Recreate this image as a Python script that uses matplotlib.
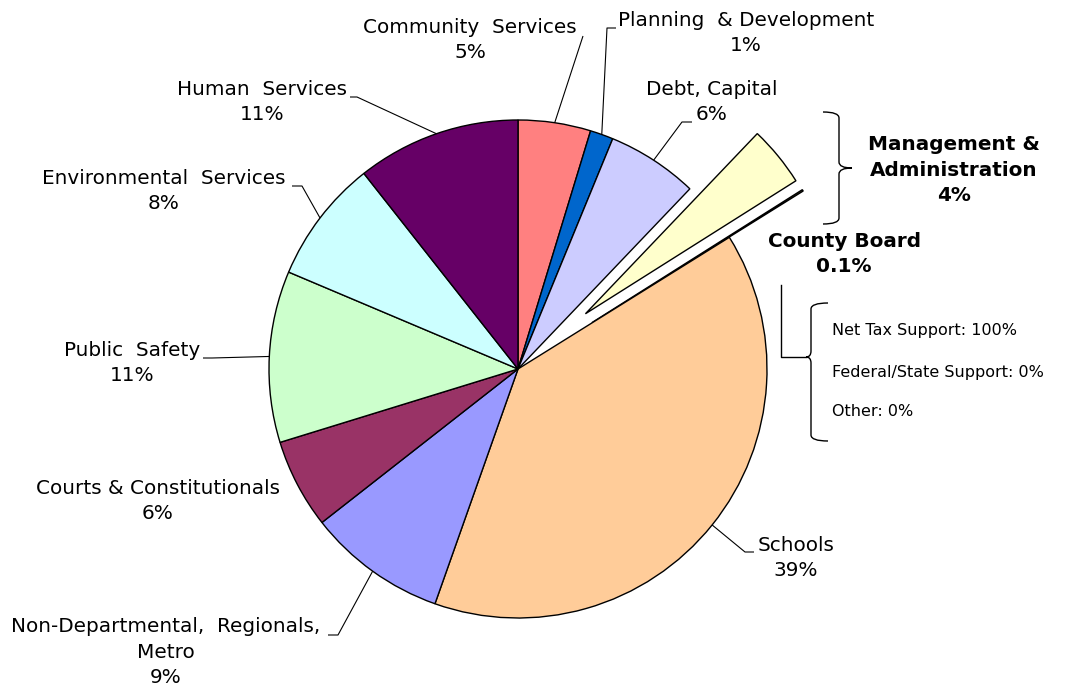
import numpy as np
import matplotlib
matplotlib.use('Agg')
import matplotlib.pyplot as plt
from matplotlib.path import Path
from matplotlib.patches import PathPatch

# data (clockwise from 12 o'clock)
categories = ['Community Services', 'Planning & Development', 'Debt, Capital',
              'Management & Administration', 'County Board', 'Schools',
              'Non-Departmental, Regionals, Metro', 'Courts & Constitutionals',
              'Public Safety', 'Environmental Services', 'Human Services']
shares = [4.7, 1.5, 5.9, 3.9, 0.1, 39.2, 9.0, 5.8, 11.1, 8.0, 10.6]
pct_labels = ['5%', '1%', '6%', '4%', '0.1%', '39%', '9%', '6%', '11%', '8%', '11%']
display_names = ['Community  Services', 'Planning  & Development', 'Debt, Capital',
                 'Management &\nAdministration', 'County Board', 'Schools',
                 'Non-Departmental,  Regionals,\nMetro', 'Courts & Constitutionals',
                 'Public  Safety', 'Environmental  Services', 'Human  Services']
colors = ['#FF8080', '#0066CC', '#CCCCFF', '#FFFFCC', '#666633', '#FFCC99',
          '#9999FF', '#993366', '#CCFFCC', '#CCFFFF', '#660066']
explode = [0, 0, 0, 0.35, 0.35, 0, 0, 0, 0, 0, 0]

support_lines = ['Net Tax Support: 100%', 'Federal/State Support: 0%', 'Other: 0%']

W, H = 1068, 687
fig = plt.figure(figsize=(W / 100, H / 100), dpi=100)
ax = fig.add_axes([0, 0, 1, 1])


def py(y):
    # pixel row (from top) -> axis y
    return H - y


cx, cy, R = 518, py(369), 249
# pie's explode is in data units, so scale by the radius
wedges, _ = ax.pie(shares, colors=colors, explode=[e * R for e in explode], startangle=90,
                   counterclock=False, center=(cx, cy), radius=R, frame=True,
                   wedgeprops=dict(edgecolor='black', linewidth=1.0))
ax.set_xlim(0, W)
ax.set_ylim(0, H)
ax.set_aspect('equal')
ax.axis('off')

FS = 14.4
LS = 1.45
# label layout: text centre, elbow point, end of short horizontal (None = no leader)
layout = {
    0: ((470, 40), (583, 36), None),
    1: ((746, 33), (607, 28), (616, 28)),
    2: ((712, 102), (682, 122), (692, 122)),
    5: ((796, 558), (745, 552), (754, 552)),
    6: ((166, 652), (338, 635), (328, 635)),
    7: ((158, 501), None, None),
    8: ((132, 363), (212, 358), (203, 358)),
    9: ((164, 191), (302, 186), (292, 186)),
    10: ((262, 102), (357, 97), (350, 97)),
}

for i, ((tx, ty), elbow, hend) in layout.items():
    ax.text(tx, py(ty), display_names[i] + '\n' + pct_labels[i], ha='center', va='center',
            multialignment='center', fontsize=FS, color='black', linespacing=LS)
    if elbow is None:
        continue
    w = wedges[i]
    mid = np.deg2rad((w.theta1 + w.theta2) / 2)
    ax_x = w.center[0] + w.r * np.cos(mid)
    ax_y = w.center[1] + w.r * np.sin(mid)
    xs = [ax_x, elbow[0]]
    ys = [ax_y, py(elbow[1])]
    if hend is not None:
        xs.append(hend[0])
        ys.append(py(hend[1]))
    ax.plot(xs, ys, color='black', lw=0.8, solid_capstyle='butt')

# bold labels for the exploded slices
ax.text(954, py(170), display_names[3] + '\n' + pct_labels[3], ha='center', va='center',
        multialignment='center', fontsize=FS, fontweight='bold', linespacing=LS)
ax.text(844, py(254), display_names[4] + '\n' + pct_labels[4], ha='center', va='center',
        multialignment='center', fontsize=FS, fontweight='bold', linespacing=LS)


def brace(x_end, x_spine, x_tip, top, mid, bottom, r=6):
    t, m, b = py(top), py(mid), py(bottom)
    verts = [(x_end, t), (x_spine, t), (x_spine, t - r),
             (x_spine, m + r), (x_spine, m), (x_tip, m),
             (x_tip, m), (x_spine, m), (x_spine, m - r),
             (x_spine, b + r), (x_spine, b), (x_end, b)]
    codes = [Path.MOVETO, Path.CURVE3, Path.CURVE3,
             Path.LINETO, Path.CURVE3, Path.CURVE3,
             Path.MOVETO, Path.CURVE3, Path.CURVE3,
             Path.LINETO, Path.CURVE3, Path.CURVE3]
    ax.add_patch(PathPatch(Path(verts, codes), fill=False, lw=1.0, edgecolor='black'))


brace(823, 839, 852, 112, 168, 224)
brace(828, 811, 806, 303, 357, 441)

# connector from County Board to the support box
ax.plot([781, 781, 806], [py(285), py(357), py(357)], color='black', lw=1.0)

for line, yy in zip(support_lines, [330, 372, 411]):
    ax.text(832, py(yy), line, ha='left', va='center', fontsize=11.5, color='black')

fig.savefig('out.png', dpi=100)
